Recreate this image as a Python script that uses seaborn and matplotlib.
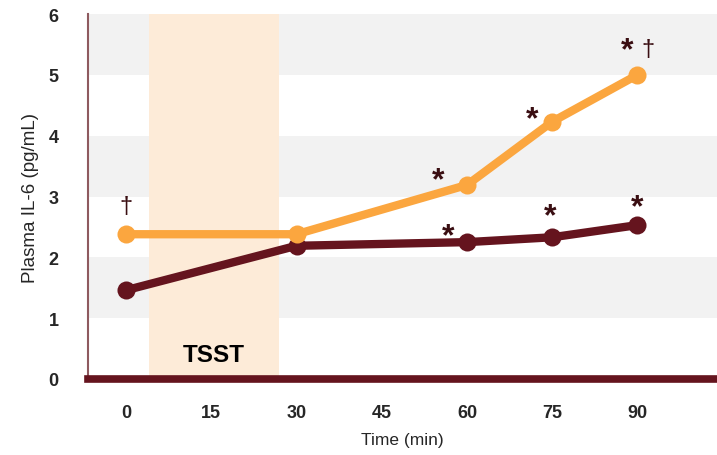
import pandas as pd
import matplotlib.pyplot as plt
import seaborn as sns

# --- Data ---
times = [0, 30, 60, 75, 90]
il6_high = [2.38, 2.38, 3.19, 4.23, 5.0]   # orange group
il6_low = [1.46, 2.19, 2.25, 2.33, 2.53]   # dark red group
x_ticks = [0, 15, 30, 45, 60, 75, 90]
y_ticks = [0, 1, 2, 3, 4, 5, 6]

# significance marks: (time, value, symbol)
mark_x = [0, 55, 71.4, 88.2, 91.8, 56.6, 74.7, 90]
mark_y = [2.85, 3.27, 4.27, 5.40, 5.42, 2.34, 2.67, 2.82]
mark_s = ['†', '*', '*', '*', '†', '*', '*', '*']

tsst_start, tsst_end = 4, 27

ORANGE = '#FBA63F'
DARK = '#65141E'

sns.set_style('white')
plt.rcParams['font.family'] = ['Liberation Sans', 'DejaVu Sans']

df = pd.DataFrame({
    'time': times * 2,
    'il6': il6_low + il6_high,
    'group': ['low'] * len(times) + ['high'] * len(times),
})

fig = plt.figure(figsize=(7.17, 4.56), dpi=100)
ax = fig.add_axes([0.1227, 0.1667, 0.8773, 0.8003])

# alternating grey bands
for lo in [1, 3, 5]:
    ax.axhspan(lo, lo + 1, color='#F2F2F2', zorder=0, lw=0)
ax.axvspan(tsst_start, tsst_end, color='#FDEBD8', zorder=1, lw=0)

sns.lineplot(data=df, x='time', y='il6', hue='group', hue_order=['low', 'high'],
             palette={'low': DARK, 'high': ORANGE}, marker='o', markersize=13,
             markeredgewidth=0, linewidth=6, legend=False, ax=ax, zorder=3)

for x, y, s in zip(mark_x, mark_y, mark_s):
    if s == '*':
        ax.text(x, y, s, ha='center', va='center', fontsize=23, fontweight='bold',
                color='#3A0E12', zorder=4)
    else:
        ax.text(x, y, s, ha='center', va='center', fontsize=17,
                color='#3A0E12', zorder=4)

ax.text((tsst_start + tsst_end) / 2, 0.41, 'TSST', ha='center', va='center',
        fontsize=17.5, fontweight='bold', color='black', zorder=4)

ax.set_xlim(-6.7, 104)
ax.set_ylim(0, 6)
ax.set_xticks(x_ticks)
ax.set_yticks(y_ticks)
ax.tick_params(axis='both', length=0, labelsize=13)
ax.tick_params(axis='x', pad=18)
ax.tick_params(axis='y', pad=21)
for lbl in ax.get_xticklabels() + ax.get_yticklabels():
    lbl.set_fontweight('bold')

ax.set_xlabel('Time (min)', fontsize=12.5, labelpad=8)
ax.set_ylabel('Plasma IL-6 (pg/mL)', fontsize=13.5, labelpad=7)

for side in ['top', 'right']:
    ax.spines[side].set_visible(False)
ax.spines['left'].set_color('#8E5A5F')
ax.spines['left'].set_linewidth(1.5)
ax.spines['bottom'].set_color(DARK)
ax.spines['bottom'].set_linewidth(5.5)
ax.spines['bottom'].set_zorder(5)

fig.savefig('out.png', dpi=100)
